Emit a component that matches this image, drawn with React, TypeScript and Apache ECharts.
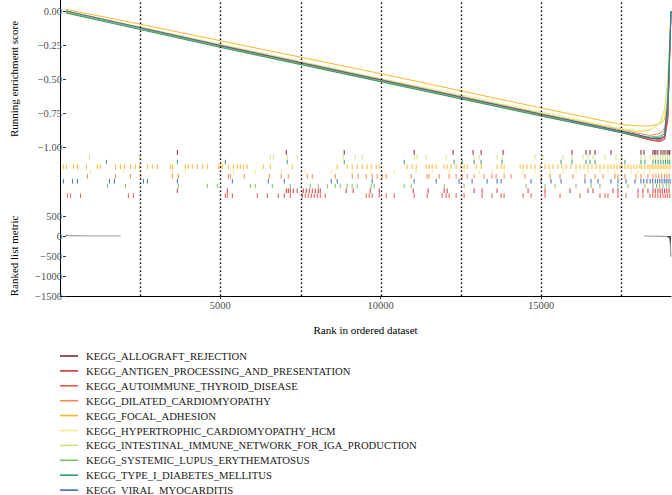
import React, { useEffect, useRef } from "react";
import * as echarts from "echarts";

const FONT = '"Liberation Serif", "Times New Roman", serif';
const XMAX = 19050;

const geneSets = [
  "KEGG_ALLOGRAFT_REJECTION",
  "KEGG_ANTIGEN_PROCESSING_AND_PRESENTATION",
  "KEGG_AUTOIMMUNE_THYROID_DISEASE",
  "KEGG_DILATED_CARDIOMYOPATHY",
  "KEGG_FOCAL_ADHESION",
  "KEGG_HYPERTROPHIC_CARDIOMYOPATHY_HCM",
  "KEGG_INTESTINAL_IMMUNE_NETWORK_FOR_IGA_PRODUCTION",
  "KEGG_SYSTEMIC_LUPUS_ERYTHEMATOSUS",
  "KEGG_TYPE_I_DIABETES_MELLITUS",
  "KEGG_VIRAL_MYOCARDITIS",
];

const colors = [
  "#7a2832", "#c8383f", "#f05a45", "#f6854f", "#fdb62f",
  "#f8eb8c", "#d2e27a", "#7fc06c", "#2f9e6b", "#3e6baf",
];

// running enrichment score, sampled at these ranks
const esRanks = [0, 2500, 5000, 7500, 10000, 12500, 15000, 17500, 18000, 18400, 18700, 18850, 18950, 19050];
const esAllograft = [0, -0.13, -0.26, -0.385, -0.51, -0.635, -0.76, -0.885, -0.91, -0.935, -0.94, -0.92, -0.75, 0];
const esAntigen = [-0.005, -0.135, -0.265, -0.395, -0.52, -0.645, -0.77, -0.895, -0.925, -0.95, -0.96, -0.945, -0.8, 0];
const esAutoimmune = [-0.005, -0.135, -0.265, -0.39, -0.515, -0.64, -0.765, -0.89, -0.92, -0.945, -0.955, -0.93, -0.78, 0];
const esDilated = [0, -0.13, -0.255, -0.38, -0.505, -0.63, -0.755, -0.875, -0.9, -0.915, -0.9, -0.86, -0.7, 0];
const esFocal = [0.012, -0.105, -0.225, -0.345, -0.465, -0.59, -0.715, -0.835, -0.845, -0.845, -0.83, -0.8, -0.62, 0];
const esHcm = [0, -0.125, -0.25, -0.375, -0.5, -0.62, -0.745, -0.865, -0.88, -0.87, -0.83, -0.76, -0.55, 0];
const esIntestinal = [-0.005, -0.13, -0.255, -0.38, -0.505, -0.63, -0.755, -0.87, -0.89, -0.875, -0.82, -0.72, -0.5, 0];
const esSle = [-0.01, -0.14, -0.27, -0.395, -0.52, -0.645, -0.77, -0.89, -0.915, -0.925, -0.92, -0.88, -0.7, 0];
const esTypeI = [-0.015, -0.145, -0.275, -0.4, -0.525, -0.65, -0.775, -0.895, -0.92, -0.935, -0.93, -0.9, -0.72, 0];
const esViral = [0, -0.13, -0.26, -0.385, -0.51, -0.635, -0.76, -0.885, -0.91, -0.935, -0.945, -0.92, -0.65, 0];
const esValues = [esAllograft, esAntigen, esAutoimmune, esDilated, esFocal, esHcm, esIntestinal, esSle, esTypeI, esViral];

// gene hit ranks per gene set
const hitsAllograft = [3660, 7056, 8862, 11043, 12258, 12880, 13130, 13815, 15964, 16400, 16525, 16681, 17179, 18113, 18206, 18487, 18540, 18580, 18640, 18736, 18800, 18860, 18930, 18985, 19010];
const hitsIntestinal = [919, 2476, 6557, 6651, 7087, 7398, 8831, 9205, 9423, 11043, 11136, 11417, 12040, 12912, 13067, 13628, 13784, 14812, 15061, 15684, 15964, 16307, 16462, 16618, 16992, 17335, 17521, 18113, 18237, 18393, 18487, 18560, 18640, 18720, 18800, 18870, 18940, 19000];
const hitsTypeI = [1448, 3660, 5156, 7087, 8862, 10732, 12289, 12538, 12912, 13130, 13784, 15622, 15964, 16400, 16525, 16681, 17615, 18113, 18237, 18487, 18570, 18650, 18730, 18810, 18880, 18950, 19010];
const hitsFocal = [109, 202, 420, 545, 825, 1168, 1262, 1729, 1885, 2009, 2196, 2352, 2476, 2726, 2881, 3037, 3442, 3504, 3909, 4003, 4127, 4283, 4439, 4595, 4937, 5000, 5062, 5249, 5405, 5529, 5623, 5716, 5841, 6339, 6557, 7243, 8644, 8955, 9111, 9267, 9423, 9579, 9703, 9859, 9953, 10825, 10981, 11105, 11417, 11510, 11603, 11728, 11977, 12071, 12196, 12351, 12507, 12600, 12694, 12974, 13130, 13628, 13753, 13846, 14345, 14438, 14563, 14687, 14812, 14968, 15123, 15248, 15372, 15528, 15653, 15777, 15933, 16089, 16213, 16338, 16462, 16587, 16712, 16836, 16961, 17085, 17179, 17272, 17366, 17459, 17521, 17615, 17708, 17802, 17895, 17989, 18082, 18144, 18237, 18331, 18393, 18455, 18518, 18580, 18642, 18705, 18767, 18829, 18892, 18954, 19016];
const hitsHcm = [950, 1978, 2508, 3504, 3909, 5405, 6090, 6900, 7648, 8457, 9111, 9703, 10420, 11105, 11603, 12133, 12600, 13067, 13472, 13846, 14438, 14812, 15279, 15684, 16089, 16462, 16836, 17085, 17303, 17521, 17802, 18020, 18206, 18393, 18518, 18642, 18767, 18892, 18985];
const hitsDilated = [857, 1729, 2196, 2508, 3504, 3691, 5249, 5311, 5747, 6526, 6900, 7118, 7710, 7866, 8582, 9111, 9298, 9548, 9734, 9890, 10046, 10171, 10950, 11448, 11510, 11822, 12133, 12351, 12538, 12694, 12912, 13223, 13472, 13597, 13846, 14064, 14500, 14999, 15279, 15590, 15995, 16369, 16681, 16930, 17303, 17397, 17615, 17957, 18113, 18331, 18487, 18580, 18670, 18760, 18850, 18920, 18990];
const hitsViral = [109, 389, 545, 1542, 1698, 2601, 2726, 3660, 5374, 6495, 6993, 8457, 8644, 9734, 11043, 11728, 12445, 12849, 13317, 13628, 13753, 14687, 14999, 15310, 15622, 16369, 16556, 16774, 17179, 17397, 17646, 17926, 18113, 18200, 18300, 18400, 18480, 18560, 18630, 18700, 18770, 18840, 18900, 18960, 19020];
const hitsSle = [1480, 2040, 3691, 4595, 4906, 5934, 6090, 6620, 7180, 7803, 8052, 8333, 8582, 8738, 8955, 9111, 9267, 9703, 9797, 10732, 10950, 11977, 12600, 14532, 15123, 15435, 16089, 16556, 16836, 17397, 17708, 18237, 18487, 18600, 18700, 18800, 18900, 18990];
const hitsAntigen = [3660, 5218, 7056, 7118, 7180, 7274, 7398, 7585, 7679, 7772, 7866, 7959, 8052, 8115, 8924, 9142, 9672, 9953, 11012, 11479, 11977, 12071, 12912, 13161, 13628, 14594, 15123, 15902, 16462, 16618, 17241, 17397, 18020, 18175, 18331, 18487, 18560, 18640, 18710, 18780, 18850, 18920, 18990];
const hitsAutoimmune = [234, 327, 639, 2134, 2290, 5156, 5218, 5374, 6152, 6464, 6806, 6993, 7180, 7554, 7648, 7741, 7835, 7928, 8021, 8115, 8270, 9548, 9641, 9734, 9953, 10171, 10420, 11043, 11448, 11915, 12040, 12133, 12351, 12600, 13161, 13472, 13753, 13846, 14438, 14687, 15123, 15590, 16213, 16836, 16992, 17085, 17397, 17646, 18020, 18175, 18393, 18480, 18560, 18640, 18720, 18800, 18870, 18940, 19010];
const hitsBySet = [hitsAllograft, hitsAntigen, hitsAutoimmune, hitsDilated, hitsFocal, hitsHcm, hitsIntestinal, hitsSle, hitsTypeI, hitsViral];
// gene set shown on each rug row, top to bottom
const rugRows = [0, 6, 8, 4, 5, 3, 9, 7, 1, 2];

// ranked list metric
const metricRanks = [1, 15, 40, 100, 250, 600, 1000, 1400, 1720, 1730, 18200, 18400, 18700, 18900, 18990, 19020, 19040, 19050];
const metricValues = [45, 25, 12, 7, 5, 3, 2, 1.5, 1, null, -1, -3, -6, -12, -40, -150, -350, -520];

const dividers = [2500, 5000, 7500, 10000, 12500, 15000, 17500];
const xTicks = [5000, 10000, 15000];

const minus = (s: string) => s.replace("-", "\u2212");

export default function App() {
  const ref = useRef<HTMLDivElement>(null);
  useEffect(() => {
    if (!ref.current) return;
    const chart = echarts.init(ref.current, null, { renderer: "svg" });
    const labelStyle = { fontFamily: FONT, fontSize: 10.5, color: "#4d4d4d", margin: 4 };
    const nameStyle = { fontFamily: FONT, fontSize: 11, color: "#000" };
    const hiddenX = (i: number) => ({ type: "value", gridIndex: i, min: 0, max: XMAX, show: false });

    const series: any[] = [];
    esValues.forEach((vals, i) => {
      series.push({
        type: "line",
        name: geneSets[i],
        xAxisIndex: 0,
        yAxisIndex: 0,
        symbol: "none",
        showSymbol: false,
        clip: false,
        color: colors[i],
        lineStyle: { width: 1, color: colors[i] },
        data: esRanks.map((r, k) => [r, vals[k]]),
        z: 3,
      });
    });
    rugRows.forEach((setIdx, row) => {
      series.push({
        type: "scatter",
        name: geneSets[setIdx] + " hits",
        xAxisIndex: 1,
        yAxisIndex: 1,
        symbol: "rect",
        symbolSize: [1.1, 4.6],
        itemStyle: { color: colors[setIdx], opacity: 0.9 },
        data: hitsBySet[setIdx].map((h) => [h, row + 0.5]),
        z: 2,
      });
    });
    series.push({
      type: "line",
      name: "metric",
      xAxisIndex: 2,
      yAxisIndex: 2,
      symbol: "none",
      showSymbol: false,
      lineStyle: { width: 0.9, color: "#8c8c8c" },
      areaStyle: { color: "#444", opacity: 1 },
      data: metricRanks.map((r, k) => [r, metricValues[k] === null ? "-" : metricValues[k]]),
    });
    series.push({
      type: "custom",
      name: "dividers",
      xAxisIndex: 3,
      yAxisIndex: 3,
      data: dividers.map((d) => [d]),
      z: 5,
      renderItem: (params: any, api: any) => {
        const v = api.value(0);
        const p0 = api.coord([v, 0]);
        const p1 = api.coord([v, 1]);
        const x = Math.round(p0[0]) + 0.5;
        return {
          type: "line",
          shape: { x1: x, y1: p0[1], x2: x, y2: p1[1] },
          style: { stroke: "#000", lineWidth: 1.4, lineDash: [1.4, 2.6] },
        };
      },
    });

    chart.setOption({
      animation: false,
      backgroundColor: "#fff",
      textStyle: { fontFamily: FONT },
      grid: [
        { left: 60, right: 1, top: 11, height: 136 },
        { left: 60, right: 1, top: 150, height: 48 },
        { left: 60, right: 1, top: 216, height: 80 },
        { left: 60, right: 1, top: 0, height: 296 },
      ],
      xAxis: [
        hiddenX(0),
        hiddenX(1),
        hiddenX(2),
        {
          type: "value",
          gridIndex: 3,
          min: 0,
          max: XMAX,
          axisLine: { show: true, lineStyle: { color: "#000", width: 1 } },
          axisTick: { show: true, length: 3, customValues: xTicks, lineStyle: { color: "#333" } },
          axisLabel: { ...labelStyle, customValues: xTicks, formatter: (v: number) => String(v) },
          splitLine: { show: false },
          name: "Rank in ordered dataset",
          nameLocation: "middle",
          nameGap: 28,
          nameTextStyle: nameStyle,
        },
      ],
      yAxis: [
        {
          type: "value",
          gridIndex: 0,
          min: -1,
          max: 0,
          interval: 0.25,
          axisLine: { show: false },
          axisTick: { show: true, length: 3, lineStyle: { color: "#333" } },
          axisLabel: { ...labelStyle, formatter: (v: number) => minus(v.toFixed(2)) },
          splitLine: { show: false },
          name: "Running enrichment score",
          nameLocation: "middle",
          nameGap: 47,
          nameTextStyle: nameStyle,
        },
        { type: "value", gridIndex: 1, min: 0, max: 10, inverse: true, show: false },
        {
          type: "value",
          gridIndex: 2,
          min: -1500,
          max: 500,
          interval: 500,
          axisLine: { show: false },
          axisTick: { show: true, length: 3, lineStyle: { color: "#333" } },
          axisLabel: { ...labelStyle, formatter: (v: number) => minus(String(v)) },
          splitLine: { show: false },
          name: "Ranked list metric",
          nameLocation: "middle",
          nameGap: 47,
          nameTextStyle: nameStyle,
        },
        {
          type: "value",
          gridIndex: 3,
          min: 0,
          max: 1,
          axisLine: { show: true, lineStyle: { color: "#000", width: 1 } },
          axisTick: { show: false },
          axisLabel: { show: false },
          splitLine: { show: false },
        },
      ],
      legend: {
        data: geneSets,
        orient: "vertical",
        left: 60,
        top: 350,
        height: 200,
        padding: 0,
        icon: "rect",
        itemWidth: 18,
        itemHeight: 1.6,
        itemGap: 2.9,
        selectedMode: false,
        textStyle: { fontFamily: FONT, fontSize: 10.7, color: "#1a1a1a", lineHeight: 12, padding: [0, 0, 0, 3] },
      },
      series,
    });
    return () => chart.dispose();
  }, []);
  return <div ref={ref} style={{ position: "fixed", left: 0, top: 0, width: 672, height: 495 }} />;
}
